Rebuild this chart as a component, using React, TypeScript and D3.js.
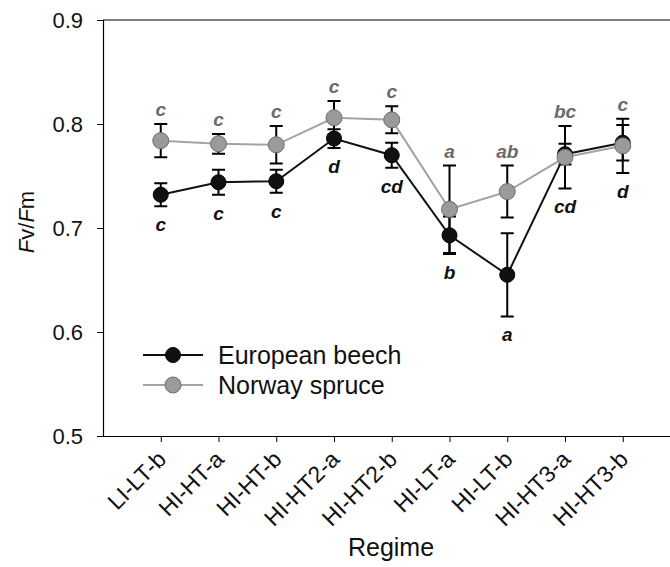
import React, { useRef, useEffect } from "react";
import * as d3 from "d3";

const regimes = [
  "LI-LT-b",
  "HI-HT-a",
  "HI-HT-b",
  "HI-HT2-a",
  "HI-HT2-b",
  "HI-LT-a",
  "HI-LT-b",
  "HI-HT3-a",
  "HI-HT3-b",
];

// European beech
const beechMean = [0.732, 0.744, 0.745, 0.786, 0.77, 0.693, 0.655, 0.771, 0.782];
const beechErr = [0.011, 0.012, 0.011, 0.009, 0.012, 0.018, 0.04, 0.01, 0.017];
const beechLetters = ["c", "c", "c", "d", "cd", "b", "a", "cd", "d"];

// Norway spruce
const spruceMean = [0.784, 0.781, 0.78, 0.806, 0.804, 0.718, 0.735, 0.768, 0.779];
const spruceErr = [0.016, 0.0095, 0.018, 0.016, 0.013, 0.042, 0.025, 0.03, 0.026];
const spruceLetters = ["c", "c", "c", "c", "c", "a", "ab", "bc", "c"];

const yTicks = [0.5, 0.6, 0.7, 0.8, 0.9];

const series = [
  { name: "European beech", mean: beechMean, err: beechErr, line: "#111", fill: "#111", stroke: "#000", r: 7.5 },
  { name: "Norway spruce", mean: spruceMean, err: spruceErr, line: "#a3a3a3", fill: "#9a9a9a", stroke: "#6e6e6e", r: 8 },
];

function FvFmChart() {
  const svgRef = useRef<SVGSVGElement>(null);

  useEffect(() => {
    const svg = d3.select(svgRef.current);
    svg.selectAll("*").remove();

    const height = 567;
    const margin = { left: 103, top: 20, bottom: 131 };
    const font = "Arial, 'Liberation Sans', sans-serif";

    // points sit at 1..9, frame runs one step past the last one (off screen)
    const x = d3.scaleLinear().domain([0, 10]).range([margin.left, margin.left + 577.5]);
    const y = d3
      .scaleLinear()
      .domain([0.5, 0.9])
      .range([height - margin.bottom, margin.top]);

    const axes = svg.append("g").attr("font-family", font);

    // frame top + right
    axes
      .append("path")
      .attr("d", `M${margin.left},${y(0.9)}H${x(10)}V${y(0.5)}`)
      .attr("fill", "none")
      .attr("stroke", "#000")
      .attr("stroke-width", 1.2);

    axes
      .append("g")
      .attr("transform", `translate(${margin.left},0)`)
      .call(d3.axisLeft(y).tickValues(yTicks).tickSize(6).tickPadding(14).tickFormat(d3.format(".1f")))
      .call((g) => g.select(".domain").attr("stroke-width", 1.2))
      .call((g) => g.selectAll("text").attr("font-size", 22).attr("fill", "#111").attr("font-family", font));

    axes
      .append("g")
      .attr("transform", `translate(0,${y(0.5)})`)
      .call(
        d3
          .axisBottom(x)
          .tickValues(d3.range(1, 10))
          .tickSize(6)
          .tickSizeOuter(0)
          .tickFormat(() => "")
      )
      .call((g) => g.select(".domain").attr("stroke-width", 1.2));

    // rotated regime labels
    axes
      .append("g")
      .selectAll("text")
      .data(regimes)
      .join("text")
      .attr("transform", (d, i) => `translate(${x(i + 1) + 1},${y(0.5) + 19}) rotate(-45)`)
      .attr("text-anchor", "end")
      .attr("dy", "0.35em")
      .attr("font-size", 23)
      .attr("fill", "#111")
      .text((d) => d);

    axes
      .append("text")
      .attr("x", 391)
      .attr("y", 556)
      .attr("text-anchor", "middle")
      .attr("font-size", 25)
      .attr("fill", "#111")
      .text("Regime");

    const yTitle = axes
      .append("text")
      .attr("transform", `translate(34,${(y(0.5) + y(0.9)) / 2 - 6}) rotate(-90)`)
      .attr("text-anchor", "middle")
      .attr("font-size", 22)
      .attr("fill", "#111");
    yTitle.append("tspan").attr("font-style", "italic").text("F");
    yTitle.append("tspan").text("v/");
    yTitle.append("tspan").attr("font-style", "italic").text("F");
    yTitle.append("tspan").text("m");

    const content = svg.append("g");

    // error bars first, both series in black
    series.forEach((s) => {
      content
        .append("g")
        .attr("stroke", "#000")
        .attr("stroke-width", 2)
        .attr("fill", "none")
        .selectAll("path")
        .data(s.mean)
        .join("path")
        .attr("d", (m, i) => {
          const cx = x(i + 1);
          const top = y(m + s.err[i]);
          const bot = y(m - s.err[i]);
          return `M${cx - 6.5},${top}H${cx + 6.5}M${cx},${top}V${bot}M${cx - 6.5},${bot}H${cx + 6.5}`;
        });
    });

    const line = d3
      .line<number>()
      .x((d, i) => x(i + 1))
      .y((d) => y(d));

    [series[1], series[0]].forEach((s) => {
      content
        .append("path")
        .attr("d", line(s.mean))
        .attr("fill", "none")
        .attr("stroke", s.line)
        .attr("stroke-width", 2);
    });

    series.forEach((s) => {
      content
        .append("g")
        .selectAll("circle")
        .data(s.mean)
        .join("circle")
        .attr("cx", (d, i) => x(i + 1))
        .attr("cy", (d) => y(d))
        .attr("r", s.r)
        .attr("fill", s.fill)
        .attr("stroke", s.stroke)
        .attr("stroke-width", 1);
    });

    // significance letters: spruce above the highest cap, beech below the lowest
    const letters = svg
      .append("g")
      .attr("font-family", font)
      .attr("font-size", 19)
      .attr("font-weight", "bold")
      .attr("font-style", "italic")
      .attr("text-anchor", "middle");

    letters
      .selectAll("text.spruce")
      .data(spruceLetters)
      .join("text")
      .attr("class", "spruce")
      .attr("x", (d, i) => x(i + 1))
      .attr("y", (d, i) => Math.min(y(spruceMean[i] + spruceErr[i]), y(beechMean[i] + beechErr[i])) - 8)
      .attr("fill", "#6b6b6b")
      .text((d) => d);

    letters
      .selectAll("text.beech")
      .data(beechLetters)
      .join("text")
      .attr("class", "beech")
      .attr("x", (d, i) => x(i + 1))
      .attr("y", (d, i) => Math.max(y(spruceMean[i] - spruceErr[i]), y(beechMean[i] - beechErr[i])) + 25)
      .attr("fill", "#111")
      .text((d) => d);

    // legend
    const legend = svg.append("g").attr("font-family", font);
    series.forEach((s, i) => {
      const ly = 355 + i * 30;
      const row = legend.append("g").attr("transform", `translate(143,${ly})`);
      row.append("line").attr("x1", 0).attr("x2", 60).attr("stroke", s.line).attr("stroke-width", 2);
      row.append("circle").attr("cx", 30).attr("r", s.r).attr("fill", s.fill).attr("stroke", s.stroke);
      row
        .append("text")
        .attr("x", 75)
        .attr("dy", "0.36em")
        .attr("font-size", 25)
        .attr("fill", "#111")
        .text(s.name);
    });
  }, []);

  return <svg ref={svgRef} width={670} height={567} style={{ position: "absolute", left: 0, top: 0, background: "#fff" }}></svg>;
}

export default function App() {
  return <FvFmChart />;
}
